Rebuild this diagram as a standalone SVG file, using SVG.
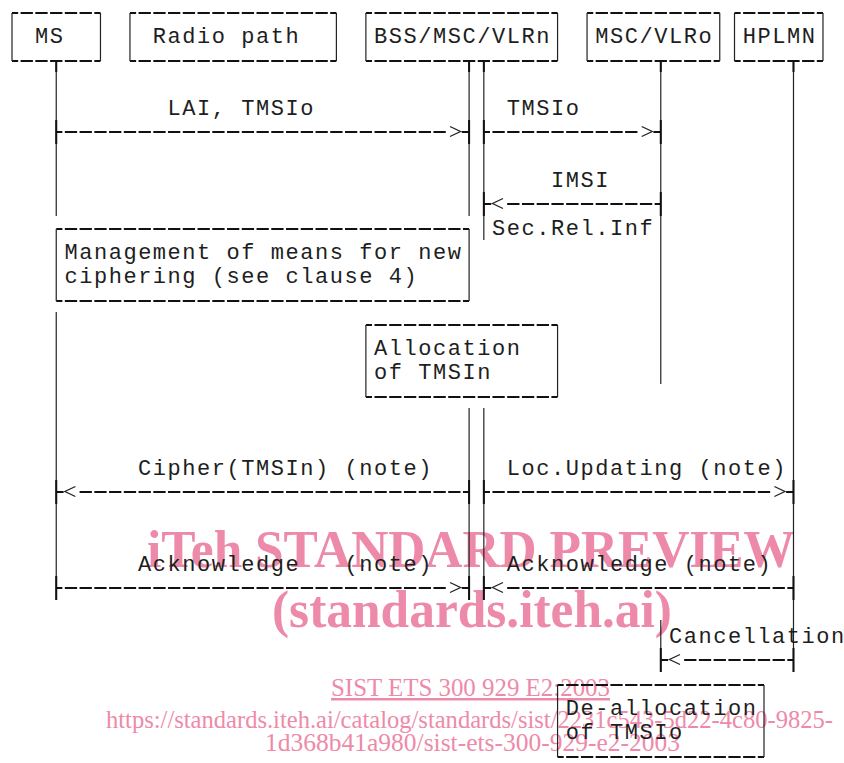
<svg xmlns="http://www.w3.org/2000/svg" width="844" height="763" viewBox="0 0 844 763">
<style>
.t{font-family:"Liberation Mono","DejaVu Sans Mono",monospace;font-size:22px;letter-spacing:1.545px;fill:#1e1e1e;white-space:pre}
.hd{fill:none;stroke:#111;stroke-width:2;stroke-dasharray:12.3 2.445;stroke-dashoffset:6.15}
.vl{fill:none;stroke:#222;stroke-width:1.2}
.tk{fill:none;stroke:#111;stroke-width:2}
.st{fill:none;stroke:#111;stroke-width:2}
.ah{fill:none;stroke:#222;stroke-width:1.3}
.wmb{font-family:"Liberation Serif","Times New Roman",serif;font-weight:bold;fill:#ee8aa9}
.wm{font-family:"Liberation Serif","Times New Roman",serif;fill:#ee8aa9;font-size:25px}
</style>
<rect width="844" height="763" fill="#fff"/>
<g id="watermark">
<text class="wmb" x="147" y="567" font-size="53" textLength="648" lengthAdjust="spacingAndGlyphs">iTeh STANDARD PREVIEW</text>
<text class="wmb" x="272" y="627" font-size="52" textLength="400" lengthAdjust="spacingAndGlyphs">(standards.iteh.ai)</text>
<text class="wm" x="331" y="696" textLength="279" lengthAdjust="spacingAndGlyphs" text-decoration="underline">SIST ETS 300 929 E2:2003</text>
<text class="wm" x="106" y="728" textLength="727" lengthAdjust="spacingAndGlyphs">https://standards.iteh.ai/catalog/standards/sist/2231c543-5d22-4c80-9825-</text>
<text class="wm" x="265" y="751" textLength="415" lengthAdjust="spacingAndGlyphs">1d368b41a980/sist-ets-300-929-e2-2003</text>
</g>
<g id="node-ms">
<path class="hd" d="M12 13H100.47M12 61H100.47"/>
<path class="vl" d="M12 13V61M100.47 13V61"/>
<text class="t" x="34.9" y="43">MS</text>
</g>
<g id="node-radio">
<path class="hd" d="M129.96 13H336.39M129.96 61H336.39"/>
<path class="vl" d="M129.96 13V61M336.39 13V61"/>
<text class="t" x="152.85" y="43">Radio path</text>
</g>
<g id="node-bss">
<path class="hd" d="M365.88 13H557.57M365.88 61H557.57"/>
<path class="vl" d="M365.88 13V61M557.57 13V61"/>
<text class="t" x="374" y="43">BSS/MSC/VLRn</text>
</g>
<g id="node-msc-vlro">
<path class="hd" d="M587.06 13H719.76M587.06 61H719.76"/>
<path class="vl" d="M587.06 13V61M719.76 13V61"/>
<text class="t" x="595.2" y="43">MSC/VLRo</text>
</g>
<g id="node-hplmn">
<path class="hd" d="M734.51 13H822.98M734.51 61H822.98"/>
<path class="vl" d="M734.51 13V61M822.98 13V61"/>
<text class="t" x="742.7" y="43">HPLMN</text>
</g>
<g id="node-mgmt">
<path class="hd" d="M56.24 229H469.1M56.24 301H469.1"/>
<path class="vl" d="M56.24 229V301M469.1 229V301"/>
<text class="t" x="64.4" y="259">Management of means for new</text>
<text class="t" x="64.4" y="283">ciphering (see clause 4)</text>
</g>
<g id="node-alloc">
<path class="hd" d="M365.88 325H557.57M365.88 397H557.57"/>
<path class="vl" d="M365.88 325V397M557.57 325V397"/>
<text class="t" x="374" y="355">Allocation</text>
<text class="t" x="374" y="379">of TMSIn</text>
</g>
<g id="node-dealloc">
<path class="hd" d="M557.57 685H764M557.57 757H764"/>
<path class="vl" d="M557.57 685V757M764 685V757"/>
<text class="t" x="565.7" y="715">De-allocation</text>
<text class="t" x="565.7" y="739">of TMSIo</text>
</g>
<g id="connectors">
<g id="lifelines">
<path class="vl" d="M56.24 61V216M56.24 312V600"/>
<path class="vl" d="M469.1 61V216M469.1 408V600"/>
<path class="vl" d="M483.84 61V240M483.84 408V600"/>
<path class="vl" d="M660.78 61V384M660.78 620V672"/>
<path class="vl" d="M793.49 61V672"/>
<path class="tk" d="M56.24 61V72M469.1 61V72M483.84 61V72M660.78 61V72M793.49 61V72"/>
</g>
<g id="msg-lai">
<path class="tk" d="M56.24 120V144M469.1 120V144"/>
<path class="hd" d="M56.24 132H446.98"/>
<polyline class="ah" points="450,126.5 460.5,131.5 450,136.5"/>
<path class="st" d="M461.73 132H469.1"/>
</g>
<g id="msg-tmsio">
<path class="tk" d="M483.84 120V144M660.78 120V144"/>
<path class="hd" d="M483.84 132H638.66"/>
<polyline class="ah" points="641.7,126.5 652.2,131.5 641.7,136.5"/>
<path class="st" d="M653.41 132H660.78"/>
</g>
<g id="msg-imsi">
<path class="tk" d="M483.84 192V216M660.78 192V216"/>
<path class="st" d="M483.84 204H491.21"/>
<polyline class="ah" points="503,198.5 492.5,203.5 503,208.5"/>
<path class="hd" d="M660.78 204H505.96"/>
</g>
<g id="msg-cipher">
<path class="tk" d="M56.24 480V504M469.1 480V504"/>
<path class="st" d="M56.24 492H63.61"/>
<polyline class="ah" points="75.4,486.5 64.9,491.5 75.4,496.5"/>
<path class="hd" d="M469.1 492H78.35"/>
</g>
<g id="msg-locupd">
<path class="tk" d="M483.84 480V504M793.49 480V504"/>
<path class="hd" d="M483.84 492H771.37"/>
<polyline class="ah" points="774.4,486.5 784.9,491.5 774.4,496.5"/>
<path class="st" d="M786.12 492H793.49"/>
</g>
<g id="msg-ack1">
<path class="tk" d="M56.24 576V600M469.1 576V600"/>
<path class="hd" d="M56.24 588H446.98"/>
<polyline class="ah" points="450,582.5 460.5,587.5 450,592.5"/>
<path class="st" d="M461.73 588H469.1"/>
</g>
<g id="msg-ack2">
<path class="tk" d="M483.84 576V600M793.49 576V600"/>
<path class="st" d="M483.84 588H491.21"/>
<polyline class="ah" points="503,582.5 492.5,587.5 503,592.5"/>
<path class="hd" d="M793.49 588H505.96"/>
</g>
<g id="msg-cancel">
<path class="tk" d="M660.78 648V672M793.49 648V672"/>
<path class="st" d="M660.78 660H668.15"/>
<polyline class="ah" points="680,654.5 669.5,659.5 680,664.5"/>
<path class="hd" d="M793.49 660H682.9"/>
</g>
</g>
<g id="labels">
<text class="t" x="167.6" y="115">LAI, TMSIo</text>
<text class="t" x="506.7" y="115">TMSIo</text>
<text class="t" x="551" y="187">IMSI</text>
<text class="t" x="492" y="235">Sec.Rel.Inf</text>
<text class="t" x="138.1" y="475">Cipher(TMSIn) (note)</text>
<text class="t" x="506.7" y="475">Loc.Updating (note)</text>
<text class="t" x="138.1" y="571">Acknowledge   (note)</text>
<text class="t" x="506.7" y="571">Acknowledge (note)</text>
<text class="t" x="668.9" y="643">Cancellation</text>
</g>
</svg>
